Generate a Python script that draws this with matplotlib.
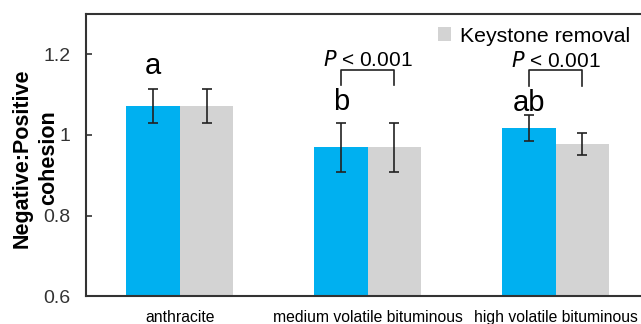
import matplotlib
matplotlib.use('Agg')
import matplotlib.pyplot as plt
import numpy as np

plt.rcParams['font.family'] = ['Liberation Sans', 'DejaVu Sans']

categories = ['anthracite', 'medium volatile bituminous', 'high volatile bituminous']
control = [1.071, 0.969, 1.018]
control_err = [0.042, 0.061, 0.032]
removal = [1.071, 0.969, 0.978]
removal_err = [0.042, 0.061, 0.027]
letters = ['a', 'b', 'ab']
letter_y = [1.150, 1.061, 1.059]
p_labels = ['', 'P < 0.001', 'P < 0.001']
bracket_y = [None, 1.162, 1.160]

blue = '#00B0F0'
grey = '#D3D3D3'

fig = plt.figure(figsize=(6.41, 3.24), dpi=100)
ax = fig.add_axes([0.134, 0.086, 0.866, 0.871])

x = np.arange(len(categories))
w = 0.285
ekw = dict(ecolor='#222222', elinewidth=1.2, capsize=3.5, capthick=1.2)
ax.bar(x - w/2, control, w, color=blue, yerr=control_err, error_kw=ekw)
ax.bar(x + w/2, removal, w, color=grey, label='Keystone removal', yerr=removal_err,
       error_kw=ekw)

# letters above the blue bars
for i, t in enumerate(letters):
    ax.text(x[i] - w/2, letter_y[i], t, ha='center', va='baseline', fontsize=21)

# p-value brackets
for i, t in enumerate(p_labels):
    if not t:
        continue
    top = bracket_y[i]
    x0, x1 = x[i] - w/2, x[i] + w/2
    ax.plot([x0, x0, x1, x1], [top - 0.039, top, top, top - 0.039],
            color='#222222', lw=1.2)
    ax.text((x0 + x1)/2, top + 0.009, r'$\it{P}$ < 0.001', ha='center', va='baseline',
            fontsize=15)

ax.set_xlim(-0.5, 2.455)
ax.set_ylim(0.6, 1.3)
ax.set_yticks([0.6, 0.8, 1.0, 1.2])
ax.set_yticklabels(['0.6', '0.8', '1', '1.2'])
ax.set_xticks(x)
ax.set_xticklabels(categories, fontsize=11.3)
ax.tick_params(axis='y', direction='in', length=4, width=1.2, labelsize=14, pad=11,
               colors='#333333')
ax.tick_params(axis='x', length=0, pad=10)

# two-line y label, one text per line
ax.text(-0.115, 0.49, 'Negative:Positive', transform=ax.transAxes, rotation=90,
        ha='center', va='center', fontsize=15.5, fontweight='bold')
ax.text(-0.068, 0.49, 'cohesion', transform=ax.transAxes, rotation=90,
        ha='center', va='center', fontsize=15.5, fontweight='bold')

for s in ['left', 'top', 'bottom']:
    ax.spines[s].set_linewidth(1.5)
    ax.spines[s].set_color('#333333')
ax.spines['right'].set_visible(False)

ax.legend(loc='upper right', bbox_to_anchor=(0.995, 0.985), frameon=False,
          fontsize=15.3, handlelength=0.6, handleheight=0.6, handletextpad=0.4,
          borderaxespad=0)

fig.savefig('out.png', dpi=100)
